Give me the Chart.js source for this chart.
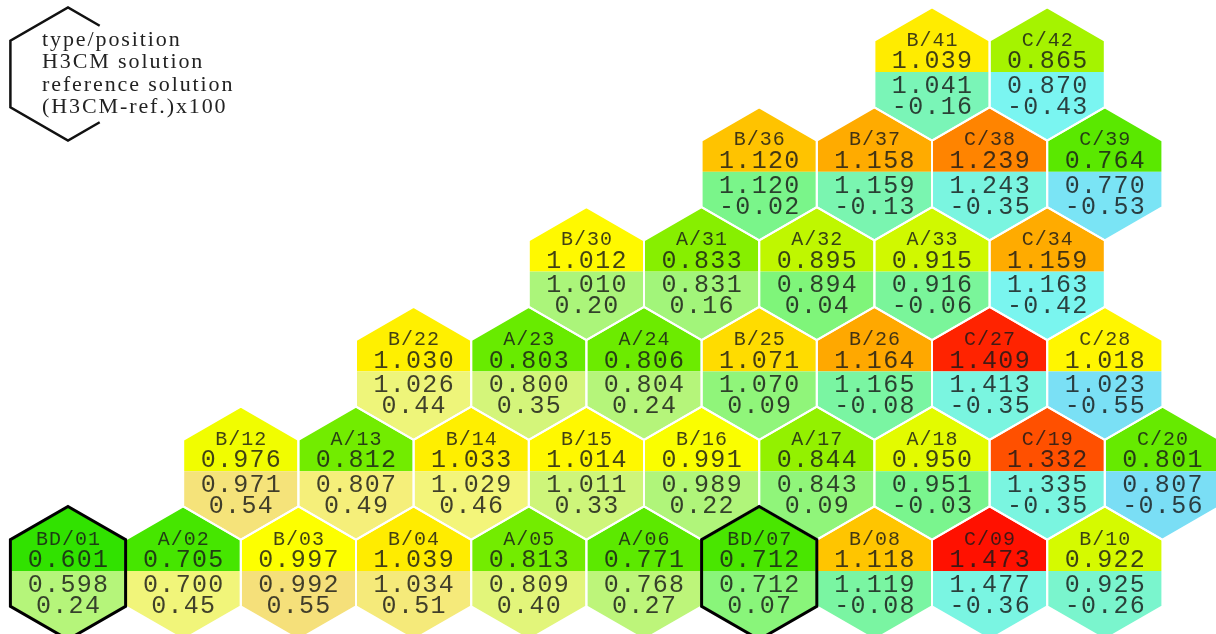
<!DOCTYPE html>
<html>
<head>
<meta charset="utf-8">
<script src="https://cdn.jsdelivr.net/npm/chart.js@4"></script>
<style>
html,body{margin:0;padding:0;background:#fff;}
#wrap{width:1216px;height:634px;position:relative;}
</style>
</head>
<body>
<div id="wrap"><canvas id="c"></canvas></div>
<script>
// ---- data ----
const labels = ['BD/01','A/02','B/03','B/04','A/05','A/06','BD/07','B/08','C/09','B/10',
  'B/12','A/13','B/14','B/15','B/16','A/17','A/18','C/19','C/20',
  'B/22','A/23','A/24','B/25','B/26','C/27','C/28',
  'B/30','A/31','A/32','A/33','C/34',
  'B/36','B/37','C/38','C/39',
  'B/41','C/42'];
// grid coordinates of each assembly (half-pitch column, row)
const gridCol = [0,2,4,6,8,10,12,14,16,18,
  3,5,7,9,11,13,15,17,19,
  6,8,10,12,14,16,18,
  9,11,13,15,17,
  12,14,16,18,
  15,17];
const gridRow = [0,0,0,0,0,0,0,0,0,0,
  1,1,1,1,1,1,1,1,1,
  2,2,2,2,2,2,2,
  3,3,3,3,3,
  4,4,4,4,
  5,5];
const h3cm = [0.601,0.705,0.997,1.039,0.813,0.771,0.712,1.118,1.473,0.922,
  0.976,0.812,1.033,1.014,0.991,0.844,0.950,1.332,0.801,
  1.030,0.803,0.806,1.071,1.164,1.409,1.018,
  1.012,0.833,0.895,0.915,1.159,
  1.120,1.158,1.239,0.764,
  1.039,0.865];
const refSol = [0.598,0.700,0.992,1.034,0.809,0.768,0.712,1.119,1.477,0.925,
  0.971,0.807,1.029,1.011,0.989,0.843,0.951,1.335,0.807,
  1.026,0.800,0.804,1.070,1.165,1.413,1.023,
  1.010,0.831,0.894,0.916,1.163,
  1.120,1.159,1.243,0.770,
  1.041,0.870];
const diff100 = [0.24,0.45,0.55,0.51,0.40,0.27,0.07,-0.08,-0.36,-0.26,
  0.54,0.49,0.46,0.33,0.22,0.09,-0.03,-0.35,-0.56,
  0.44,0.35,0.24,0.09,-0.08,-0.35,-0.55,
  0.20,0.16,0.04,-0.06,-0.42,
  -0.02,-0.13,-0.35,-0.53,
  -0.16,-0.43];
const legendLines = ['type/position','H3CM solution','reference solution','(H3CM-ref.)x100'];
const legendCol = 0, legendRow = 5;

// ---- colour maps ----
function hsv(h, s, v){
  const f = n => { const k = (n + h/60) % 6; return v - v*s*Math.max(0, Math.min(k, 4-k, 1)); };
  return 'rgb(' + Math.round(f(5)*255) + ',' + Math.round(f(3)*255) + ',' + Math.round(f(1)*255) + ')';
}
function interp(stops, x){
  if (x <= stops[0][0]) return stops[0][1];
  const n = stops.length;
  if (x >= stops[n-1][0]) return stops[n-1][1];
  for (let k = 0; k < n-1; k++){
    const a = stops[k], b = stops[k+1];
    if (x >= a[0] && x <= b[0]) return a[1] + (b[1]-a[1]) * (x - a[0]) / (b[0]-a[0]);
  }
}
const topStops = [[0.6,107],[0.7,102],[0.8,94],[0.85,82],[0.92,69],[0.976,63],[1.0,60],[1.07,52],[1.12,46],[1.16,40],[1.24,31],[1.33,19],[1.41,8],[1.47,4]];
function topColor(v){
  const h = interp(topStops, v);
  const val = h <= 60 ? 1.0 : 1.0 - (h - 60) / 50 * 0.12;
  return hsv(h, 1, val);
}
const diffStops = [[-0.6,195],[-0.35,170],[-0.1,143],[0,124],[0.1,108],[0.25,90],[0.45,62],[0.55,50]];
function bottomColor(d){
  return hsv(interp(diffStops, d), 0.5, 0.96);
}

const points = gridCol.map((c,i)=>({x:c, y:gridRow[i]}));

const hexPlugin = {
  id:'hexmap',
  afterDatasetsDraw(chart){
    const ctx = chart.ctx;
    const xs = chart.scales.x, ys = chart.scales.y;
    const meta = chart.getDatasetMeta(0);
    function hexPath(c, r){
      const P = (dx, dy) => [xs.getPixelForValue(c+dx), ys.getPixelForValue(r+dy)];
      const pts = [P(0,2/3),P(1,1/3),P(1,-1/3),P(0,-2/3),P(-1,-1/3),P(-1,1/3)];
      ctx.beginPath();
      pts.forEach((p,k)=> k ? ctx.lineTo(p[0],p[1]) : ctx.moveTo(p[0],p[1]));
      ctx.closePath();
    }
    const R = Math.abs(ys.getPixelForValue(2/3) - ys.getPixelForValue(0));
    ctx.save();
    // fills
    meta.data.forEach((el,i)=>{
      const c = gridCol[i], r = gridRow[i];
      ctx.save();
      hexPath(c,r);
      ctx.clip();
      const split = el.y - 0.03*R;
      ctx.fillStyle = topColor(h3cm[i]);
      ctx.fillRect(el.x - R, el.y - R - 2, 2*R, split - (el.y - R - 2));
      ctx.fillStyle = bottomColor(diff100[i]);
      ctx.fillRect(el.x - R, split, 2*R, el.y + R + 2 - split);
      ctx.restore();
    });
    // white gaps
    ctx.strokeStyle = '#ffffff';
    ctx.lineWidth = 2;
    ctx.lineJoin = 'miter';
    meta.data.forEach((el,i)=>{ hexPath(gridCol[i], gridRow[i]); ctx.stroke(); });
    // BD outlines
    ctx.strokeStyle = '#000';
    ctx.lineWidth = 3;
    meta.data.forEach((el,i)=>{
      if (labels[i].startsWith('BD')) { hexPath(gridCol[i], gridRow[i]); ctx.stroke(); }
    });
    // texts
    const monoL = '20px "Liberation Mono", monospace';
    const monoV = '25px "Liberation Mono", monospace';
    ctx.textAlign = 'center';
    ctx.textBaseline = 'alphabetic';
    ctx.font = monoL;
    const hL = ctx.measureText('B0').actualBoundingBoxAscent;
    ctx.font = monoV;
    const hV = ctx.measureText('0').actualBoundingBoxAscent;
    ctx.fillStyle = 'rgba(25,25,25,0.82)';
    meta.data.forEach((el,i)=>{
      ctx.font = monoL;
      ctx.letterSpacing = '1px';
      ctx.fillText(labels[i], el.x + 0.5, el.y - 0.525*R + hL/2);
      ctx.font = monoV;
      ctx.letterSpacing = '1.3px';
      ctx.fillText(h3cm[i].toFixed(3), el.x + 0.6, el.y - 0.215*R + hV/2);
      ctx.fillText(refSol[i].toFixed(3), el.x + 0.6, el.y + 0.155*R + hV/2);
      ctx.fillText(diff100[i].toFixed(2), el.x + 0.6, el.y + 0.47*R + hV/2);
    });
    ctx.letterSpacing = '0px';
    // legend hexagon (partial outline)
    const L = (dx, dy) => [xs.getPixelForValue(legendCol+dx), ys.getPixelForValue(legendRow+dy)];
    const f = 0.55;
    const top = L(0,2/3), ur = L(f, 2/3 - f/3), lr = L(f, -2/3 + f/3);
    const ul = L(-1,1/3), ll = L(-1,-1/3), bot = L(0,-2/3);
    ctx.beginPath();
    ctx.moveTo(ur[0],ur[1]); ctx.lineTo(top[0],top[1]); ctx.lineTo(ul[0],ul[1]);
    ctx.lineTo(ll[0],ll[1]); ctx.lineTo(bot[0],bot[1]); ctx.lineTo(lr[0],lr[1]);
    ctx.strokeStyle = '#111';
    ctx.lineWidth = 2.5;
    ctx.stroke();
    const cen = L(0,0);
    ctx.font = '22px "Liberation Serif", serif';
    ctx.letterSpacing = '1.9px';
    ctx.textAlign = 'left';
    ctx.fillStyle = '#222';
    legendLines.forEach((t,k)=>{
      ctx.fillText(t, cen[0] - 26, cen[1] - 28 + 22.3*k);
    });
    ctx.restore();
  }
};

new Chart(document.getElementById('c'), {
  type:'scatter',
  data:{ datasets:[{ data: points, pointRadius:0, pointHoverRadius:0 }] },
  options:{
    responsive:true, maintainAspectRatio:false, animation:false,
    layout:{ padding:0 },
    plugins:{ legend:{display:false}, tooltip:{enabled:false} },
    events:[],
    scales:{
      x:{ type:'linear', display:false, min:-68/57.6, max:-68/57.6 + 1216/57.6 },
      y:{ type:'linear', display:false, min:-61/99.8, max:-61/99.8 + 634/99.8 }
    }
  },
  plugins:[hexPlugin]
});
</script>
</body>
</html>
